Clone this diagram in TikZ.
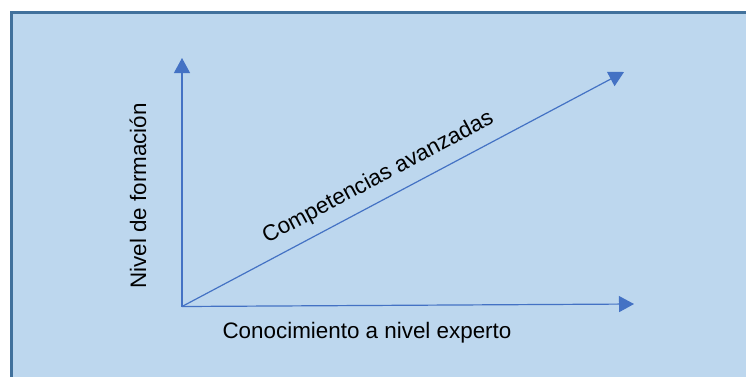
\documentclass[tikz,border=0pt]{standalone}
\usepackage{fontspec}
\setmainfont{Liberation Sans}
\usetikzlibrary{arrows.meta}
\definecolor{bgfill}{HTML}{BDD7EE}
\definecolor{bgedge}{HTML}{41719C}
\definecolor{axis}{HTML}{4472C4}
\tikzset{
  axisline/.style={draw=axis, line width=1.2pt, -{Triangle[length=15pt,width=16pt]}},
  lbl/.style={font=\fontsize{22.4}{26}\selectfont, text=black, inner sep=0pt, anchor=base}
}
\begin{document}
\begin{tikzpicture}[x=1pt,y=-1pt]
\useasboundingbox (0,0) rectangle (746,376);
\clip (0,0) rectangle (746,376);
\draw[fill=bgfill, draw=bgedge, line width=2.5pt] (11.5,12.5) rectangle (770,400);
\coordinate (O) at (182,306.5);
\coordinate (Y) at (182,58);
\coordinate (X) at (634,304);
\coordinate (D) at (624,72);
\draw[axisline] (O) -- (Y);
\draw[axisline] (O) -- (X);
\draw[axisline] (O) -- (D);
\node[lbl] (xl) at (367,338) {Conocimiento a nivel experto};
\node[lbl, rotate=90] (yl) at (146,196) {Nivel de formación};
\node[lbl, rotate=28] (dl) at (381,183) {Competencias avanzadas};
\end{tikzpicture}
\end{document}
